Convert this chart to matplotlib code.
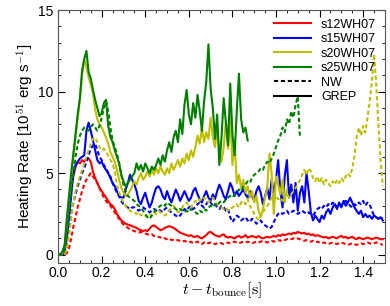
import numpy as np
import matplotlib
matplotlib.use('Agg')
from matplotlib import pyplot as plt
from matplotlib.lines import Line2D
from matplotlib.ticker import MultipleLocator, FormatStrFormatter

plt.rcParams['font.family'] = ['Liberation Sans', 'DejaVu Sans']
plt.rcParams['mathtext.fontset'] = 'cm'

dt = 0.01

# s12WH07
s12_grep = [0, 0, 0, 0.3, 2.0, 3.3, 4.2, 4.8, 5.4, 5.7,
            5.6, 5.8, 5.7, 5.9, 5.9, 5.7, 5.1, 4.7, 4.4, 4.1,
            3.9, 3.7, 3.5, 3.3, 3.1, 3.0, 2.8, 2.5, 2.3, 2.1,
            2.0, 1.9, 1.85, 1.8, 1.75, 1.7, 1.65, 1.55, 1.5, 1.45,
            1.5, 1.45, 1.6, 1.75, 1.8, 1.7, 1.6, 1.5, 1.55, 1.65,
            1.7, 1.75, 1.7, 1.65, 1.55, 1.45, 1.35, 1.3, 1.25, 1.2,
            1.15, 1.2, 1.1, 1.1, 1.15, 1.05, 1.0, 1.1, 1.2, 1.35,
            1.4, 1.3, 1.2, 1.15, 1.1, 1.2, 1.25, 1.1, 1.05, 1.1,
            1.05, 1.0, 1.1, 1.15, 1.05, 1.1, 1.2, 1.05, 1.1, 1.15,
            1.1, 1.05, 1.15, 1.05, 1.0, 1.05, 1.1, 1.05, 1.1, 1.15,
            1.1, 1.2, 1.15, 1.25, 1.2, 1.25, 1.3, 1.25, 1.35, 1.3,
            1.4, 1.35, 1.3, 1.35, 1.25, 1.3, 1.2, 1.25, 1.15, 1.2,
            1.15, 1.1, 1.05, 1.1, 1.0, 1.05, 1.1, 1.05, 1.0, 1.1,
            1.15, 1.05, 1.1, 1.0, 1.05, 1.1, 1.0, 0.95, 1.05, 1.0,
            0.95, 1.0, 1.05, 1.0, 0.95, 1.0, 1.05, 1.0, 0.95, 0.95]
s12_nw = [0, 0, 0, 0, 0.1, 0.4, 1.0, 1.7, 2.3, 2.9,
          3.4, 3.9, 4.3, 4.6, 4.8, 5.0, 4.8, 4.6, 4.4, 4.1,
          3.8, 3.5, 3.3, 3.1, 3.0, 2.8, 2.6, 2.4, 2.2, 2.0,
          1.85, 1.75, 1.65, 1.55, 1.5, 1.45, 1.4, 1.35, 1.4, 1.35,
          1.3, 1.25, 1.2, 1.25, 1.15, 1.1, 1.1, 1.05, 1.1, 1.0,
          0.95, 1.0, 0.9, 0.9, 0.85, 0.9, 0.85, 0.8, 0.85, 0.8,
          0.75, 0.8, 0.7, 0.75, 0.8, 0.7, 0.65, 0.75, 0.8, 0.7,
          0.75, 0.7, 0.65, 0.7, 0.75, 0.7, 0.65, 0.7, 0.75, 0.7,
          0.75, 0.8, 0.75, 0.7, 0.75, 0.8, 0.75, 0.8, 0.75, 0.7,
          0.75, 0.8, 0.75, 0.8, 0.85, 0.8, 0.75, 0.8, 0.85, 0.8,
          0.85, 0.9, 0.85, 0.95, 0.9, 0.95, 1.0, 0.95, 1.0, 0.95,
          1.0, 0.95, 0.9, 0.85, 0.9, 0.85, 0.8, 0.85, 0.75, 0.8,
          0.75, 0.7, 0.75, 0.7, 0.65, 0.7, 0.75, 0.7, 0.65, 0.7,
          0.75, 0.7, 0.65, 0.6, 0.65, 0.7, 0.65, 0.6, 0.65, 0.7,
          0.65, 0.7, 0.75, 0.7, 0.65, 0.7, 0.75, 0.7, 0.65, 0.6]

# s15WH07
s15_grep = [0, 0, 0, 0.2, 1.0, 2.3, 3.6, 5.0, 5.5, 5.7,
            5.9, 6.0, 6.1, 7.6, 8.1, 7.6, 7.0, 6.4, 5.8, 5.6,
            5.7, 5.4, 5.2, 5.0, 4.7, 4.4, 4.2, 3.9, 3.6, 3.5,
            3.5, 4.0, 4.4, 4.9, 4.6, 4.3, 3.9, 3.3, 3.1, 3.5,
            3.8, 3.3, 2.9, 3.2, 3.7, 4.1, 4.2, 4.0, 3.6, 3.4,
            3.9, 3.5, 3.2, 3.6, 4.0, 3.7, 3.3, 3.6, 3.9, 3.6,
            3.3, 3.5, 3.9, 4.1, 3.7, 3.4, 3.2, 3.6, 3.9, 3.5,
            3.3, 3.7, 3.4, 3.9, 4.3, 4.0, 3.6, 3.4, 3.9, 4.4,
            4.1, 3.6, 3.9, 3.6, 3.8, 4.0, 3.7, 3.5, 3.9, 3.6,
            3.3, 3.9, 4.2, 3.8, 3.1, 3.6, 4.1, 3.4, 4.6, 3.8,
            4.6, 5.8, 3.9, 2.9, 4.8, 5.8, 3.5, 4.3, 3.2, 4.4,
            2.7, 3.8, 4.2, 3.2, 5.0, 3.9, 2.6, 2.1, 2.4, 2.2,
            2.0, 2.4, 2.2, 2.6, 2.8, 2.5, 2.9, 3.1, 2.8, 3.2,
            2.9, 3.3, 3.0, 3.2, 3.5, 3.2, 2.9, 2.7, 2.5, 2.7,
            2.3, 2.5, 2.3, 2.4, 2.2, 2.4, 2.3, 2.2, 2.3, 2.1]
s15_nw = [0, 0, 0, 0, 0.6, 1.6, 2.5, 3.2, 3.7, 4.2,
          4.6, 5.0, 5.3, 5.7, 6.1, 6.5, 6.7, 6.8, 6.4, 6.0,
          5.8, 5.5, 5.3, 5.0, 4.8, 4.4, 4.1, 3.8, 3.6, 3.3,
          3.1, 3.0, 2.9, 2.8, 2.9, 2.9, 2.8, 2.7, 2.8, 2.9,
          2.8, 2.7, 2.6, 2.7, 2.8, 2.7, 2.8, 2.7, 2.6, 2.8,
          2.9, 2.7, 2.6, 2.5, 2.4, 2.3, 2.4, 2.6, 2.8, 2.7,
          2.9, 3.0, 2.8, 2.9, 3.1, 3.2, 3.0, 2.9, 3.1, 3.3,
          3.2, 3.0, 3.1, 2.9, 2.8, 3.0, 2.9, 2.7, 2.8, 2.3,
          2.0, 2.2, 2.4, 2.3, 2.1, 2.2, 2.3, 2.1, 2.0, 2.2,
          2.1, 1.9, 2.0, 2.1, 1.9, 1.8, 1.7, 1.6, 1.7, 2.0,
          2.3, 2.5, 2.6, 2.5, 2.6, 2.7, 2.5, 2.6, 2.7, 2.6,
          2.5, 2.6, 2.7, 2.6, 2.5, 2.6, 2.5, 2.4, 2.6, 2.8,
          2.9, 2.8, 3.0, 2.9, 3.1, 3.0, 3.2, 3.1, 2.9, 3.1,
          3.0, 3.2, 3.3, 3.2, 3.0, 2.9, 3.1, 3.0, 3.2, 3.1,
          3.3, 3.0, 3.2, 3.1, 2.7, 2.4, 2.3, 2.2, 2.3, 2.2]

# s20WH07
s20_grep = [0, 0, 0.1, 0.5, 1.9, 3.3, 4.7, 6.0, 7.2, 8.4,
            9.5, 11.0, 12.0, 11.5, 10.9, 10.4, 9.9, 8.9, 8.3, 8.0,
            7.8, 7.5, 7.2, 6.8, 6.3, 6.0, 5.7, 5.2, 4.6, 4.1,
            3.8, 3.6, 3.7, 3.9, 4.2, 4.5, 4.3, 4.7, 5.0, 4.6,
            4.8, 5.1, 4.8, 5.2, 4.9, 5.3, 5.0, 5.4, 5.1, 4.9,
            5.3, 5.0, 5.6, 5.2, 5.5, 5.8, 5.4, 5.9, 5.6, 6.2,
            5.8, 6.4, 6.0, 6.6, 7.3, 6.8, 7.8, 6.9, 7.5, 7.1,
            8.4, 7.2, 6.6, 7.8, 6.4, 5.7, 6.6, 8.2, 6.5, 8.6,
            5.5, 7.0, 4.4, 4.9, 4.1, 4.6, 3.8, 4.2, 3.5, 3.9,
            3.2, 3.6, 2.7, 2.3, 2.8, 3.5, 4.1, 6.2, 5.0, 2.5,
            4.8, 4.3, 3.7, 4.6, 3.2, 4.0]
s20_nw = [0, 0, 0, 0, 0.4, 1.2, 2.2, 3.2, 3.9, 4.4,
          4.8, 5.2, 5.6, 6.0, 6.4, 6.8, 7.1, 7.2, 6.9, 6.6,
          6.4, 6.5, 6.3, 6.1, 5.8, 5.6, 5.1, 4.3, 3.8, 3.5,
          3.2, 3.0, 2.8, 2.7, 2.6, 2.6, 2.5, 2.6, 2.4, 2.5,
          2.4, 2.3, 2.5, 2.4, 2.6, 2.5, 2.7, 2.6, 2.5, 2.4,
          2.5, 2.7, 2.9, 3.0, 2.8, 2.6, 2.7, 2.9, 3.1, 3.2,
          3.0, 2.9, 3.1, 3.3, 3.2, 3.4, 3.3, 3.5, 3.4, 3.2,
          3.4, 3.5, 3.3, 3.1, 3.0, 2.9, 2.8, 2.9, 2.7, 2.8,
          2.9, 3.0, 3.1, 2.9, 3.2, 3.3, 3.1, 3.4, 3.0, 2.8,
          2.5, 2.3, 2.1, 2.4, 2.6, 2.8, 3.0, 3.2, 3.5, 3.3,
          3.6, 3.4, 3.5, 3.3, 3.6, 3.8, 3.5, 3.7, 3.9, 4.1,
          4.3, 4.6, 4.9, 5.2, 4.9, 5.3, 5.1, 4.7, 4.5, 4.8,
          4.4, 4.7, 4.3, 4.6, 4.4, 4.2, 4.5, 4.3, 4.6, 4.4,
          4.7, 4.5, 4.8, 5.0, 4.8, 5.3, 6.0, 7.2, 7.8, 7.3,
          7.9, 7.5, 8.4, 9.4, 10.6, 12.3, 10.5, 8.0, 5.8, 4.2]

# s25WH07
s25_grep = [0, 0, 0.2, 0.6, 2.2, 3.6, 5.0, 6.2, 7.4, 8.6,
            9.6, 11.3, 12.0, 12.5, 11.2, 10.8, 10.1, 9.5, 9.0, 8.5,
            8.7, 9.3, 9.5, 7.9, 7.2, 6.9, 6.4, 6.0, 5.6, 4.9,
            4.5, 4.2, 4.4, 4.6, 4.8, 5.0, 5.6, 5.2, 5.5, 5.1,
            5.6, 5.3, 5.0, 5.4, 5.2, 5.5, 5.9, 5.5, 6.1, 5.7,
            6.4, 6.9, 6.3, 7.2, 7.6, 6.9, 8.3, 7.4, 9.2, 10.1,
            8.6, 8.0, 9.3, 8.4, 9.8, 8.8, 7.6, 9.4, 10.6, 12.9,
            10.2, 9.0, 7.1, 8.6, 5.5, 7.2, 9.6, 8.1, 6.7, 10.5,
            7.4, 6.1, 8.8, 11.1, 8.3, 7.5, 7.8, 7.0]
s25_nw = [0, 0, 0, 0.3, 1.2, 2.6, 3.9, 5.0, 6.0, 6.8,
          7.3, 7.6, 7.8, 7.7, 7.6, 7.8, 8.0, 7.8, 7.6, 7.9,
          8.4, 9.0, 9.4, 8.8, 7.8, 7.0, 6.6, 6.2, 5.6, 4.9,
          4.3, 3.9, 3.6, 3.5, 3.4, 3.3, 3.1, 3.0, 2.9, 2.7,
          2.5, 2.3, 2.2, 2.4, 2.6, 2.8, 2.9, 3.0, 3.1, 3.0,
          3.2, 3.1, 3.0, 2.9, 2.8, 2.7, 2.8, 2.7, 2.6, 2.7,
          2.6, 2.8, 2.7, 2.6, 2.5, 2.7, 2.6, 2.8, 2.7, 2.9,
          3.0, 2.9, 3.1, 3.0, 3.2, 3.3, 3.2, 3.4, 3.5, 3.6,
          3.5, 3.7, 3.8, 4.0, 3.9, 4.2, 4.3, 4.5, 4.4, 4.7,
          4.9, 5.0, 5.1, 5.3, 5.2, 5.5, 5.7, 5.6, 5.9, 6.2,
          6.6, 7.0, 7.3, 7.8, 7.5, 8.3, 8.0, 8.8, 8.4, 9.2,
          9.7, 7.2]

models = ['s12WH07', 's15WH07', 's20WH07', 's25WH07']
colors = ['#ff0000', '#0000ff', '#bfbf00', '#008000']
grep_runs = [s12_grep, s15_grep, s20_grep, s25_grep]
nw_runs = [s12_nw, s15_nw, s20_nw, s25_nw]

fig = plt.figure(figsize=(3.9, 3.06), dpi=100)
ax = fig.add_axes([0.149, 0.141, 0.838, 0.826])

for g, n, c in zip(grep_runs, nw_runs, colors):
    tn = np.arange(len(n)) * dt
    ax.plot(tn, n, color=c, lw=1.5, dashes=(2, 1.3))
    tg = np.arange(len(g)) * dt
    ax.plot(tg, g, color=c, lw=1.5)

ax.set_xlim(0, 1.5)
ax.set_ylim(-0.5, 15)
ax.xaxis.set_major_locator(MultipleLocator(0.2))
ax.xaxis.set_minor_locator(MultipleLocator(0.05))
ax.yaxis.set_major_locator(MultipleLocator(5))
ax.yaxis.set_minor_locator(MultipleLocator(1))
ax.tick_params(which='both', direction='in', top=True, right=True, labelsize=10)
ax.tick_params(axis='x', pad=2)
ax.tick_params(which='major', length=5)
ax.tick_params(which='minor', length=2.5)
ax.xaxis.set_major_formatter(FormatStrFormatter('%.1f'))
for s in ax.spines.values():
    s.set_color('#555555')

ax.set_ylabel('Heating Rate [10$^{51}$ erg s$^{-1}$]', fontsize=11)
ax.yaxis.set_label_coords(-0.068, 0.5)
ax.set_xlabel(r'$t - t_{\rm bounce}[\rm s]$', fontsize=11.5)
ax.xaxis.set_label_coords(0.5, -0.07)

handles = [Line2D([], [], color=c, lw=1.5) for c in colors]
handles.append(Line2D([], [], color='k', lw=1.5, dashes=(2, 1.3)))
handles.append(Line2D([], [], color='k', lw=1.5))
labels = models + ['NW', 'GREP']
ax.legend(handles, labels, loc='upper right', frameon=False, fontsize=9,
          handlelength=3.0, handletextpad=0.8, labelspacing=0.2,
          borderpad=0.2, borderaxespad=0.5)

fig.savefig('out.png', dpi=100)
